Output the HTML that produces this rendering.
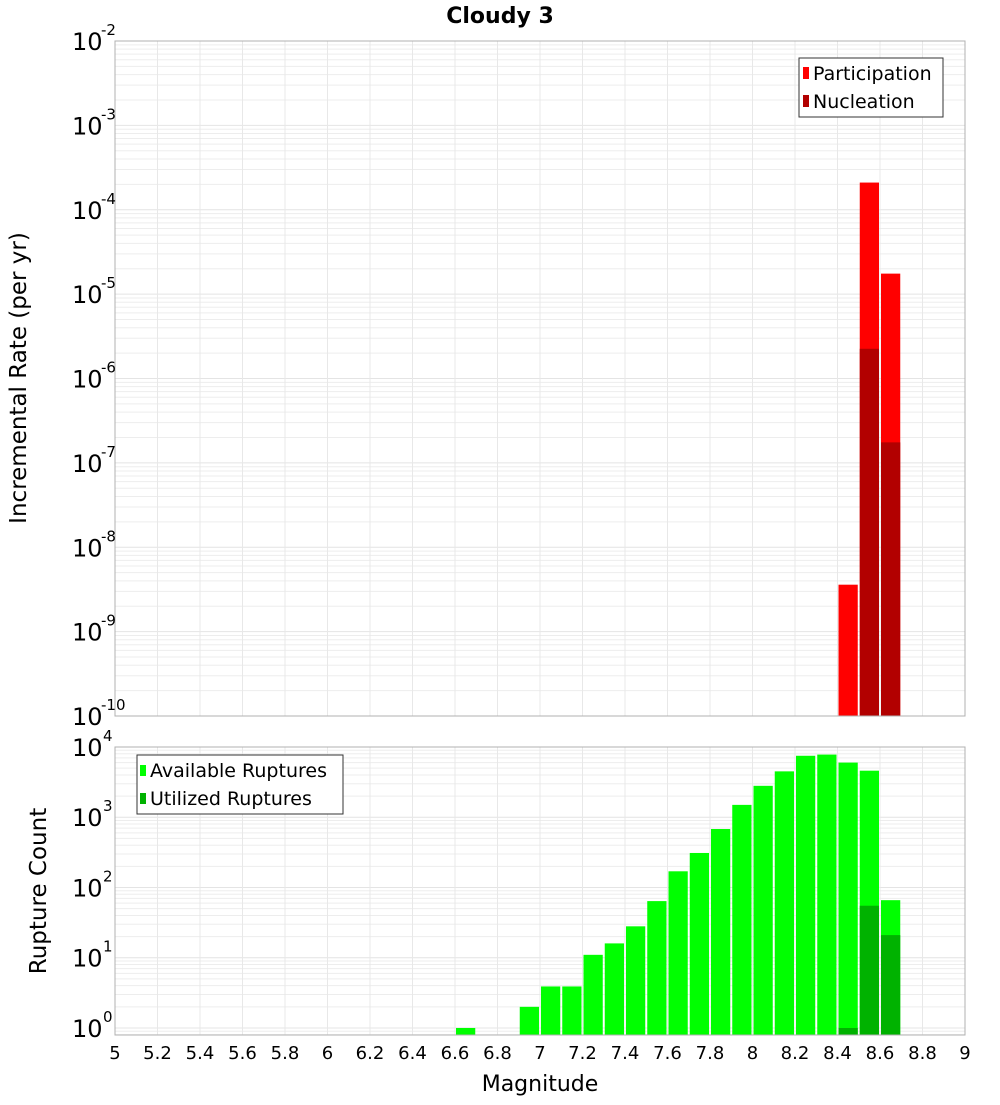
<!DOCTYPE html>
<html><head><meta charset="utf-8"><style>
body{margin:0;background:#fff}
svg text{font-family:"DejaVu Sans","Liberation Sans",sans-serif;fill:#000}
</style></head><body>
<svg id="c" width="1000" height="1100"></svg>
<script>
const binStarts=[6.6,6.7,6.8,6.9,7.0,7.1,7.2,7.3,7.4,7.5,7.6,7.7,7.8,7.9,8.0,8.1,8.2,8.3,8.4,8.5,8.6];
const available=[1,0,0,2,3.9,3.9,11,16,28,64,170,310,680,1500,2800,4500,7500,7800,6000,4600,66];
const utilized=[0,0,0,0,0,0,0,0,0,0,0,0,0,0,0,0,0,0,1,55,21];
const rateBins=[8.4,8.5,8.6];
const participation=[3.6e-9,2.1e-4,1.75e-5];
const nucleation=[0,2.25e-6,1.75e-7];
const xTicks=[5,5.2,5.4,5.6,5.8,6,6.2,6.4,6.6,6.8,7,7.2,7.4,7.6,7.8,8,8.2,8.4,8.6,8.8,9];
const topExps=[-2,-3,-4,-5,-6,-7,-8,-9,-10];
const botExps=[0,1,2,3,4];

const NS="http://www.w3.org/2000/svg",svg=document.getElementById('c');
function mk(t,a,p){const e=document.createElementNS(NS,t);for(const k in a)e.setAttribute(k,a[k]);(p||svg).appendChild(e);return e;}
const X0=115,X1=965;
const x=v=>X0+(v-5)/4*(X1-X0);
const T0=41,T1=716;
const yT=v=>T0+(-2-Math.log10(v))/8*(T1-T0);
const B0=747,B1=1035;
const yB=v=>B1-(Math.log10(v)+0.1)/4.1*(B1-B0);

function grid(y0,y1,yf,lo,hi,name){
  const g=mk('g',{});  
  for(let e=lo;e<hi;e++)for(let m=1;m<10;m++){const yy=yf(m*Math.pow(10,e));if(yy<y0-0.5||yy>y1+0.5)continue;
    mk('line',{x1:X0,x2:X1,y1:yy,y2:yy,stroke:m==1?'#e4e4e4':'#ededed','stroke-width':1},g);}
  xTicks.forEach(t=>{mk('line',{x1:x(t),x2:x(t),y1:y0,y2:y1,stroke:'#e8e8e8'},g);});
}
grid(T0,T1,yT,-10,-1,'top');
grid(B0,B1,yB,-1,5,'bottom');

rateBins.forEach((b,i)=>{
  const xa=x(b)+1,w=x(b+0.1)-x(b)-2;
  if(participation[i]>0){const r=mk('rect',{x:xa,y:yT(participation[i]),width:w,height:T1-yT(participation[i]),fill:'#ff0000'});
    }
  if(nucleation[i]>0){const r=mk('rect',{x:xa,y:yT(nucleation[i]),width:w,height:T1-yT(nucleation[i]),fill:'#b20000'});
    }
});
binStarts.forEach((b,i)=>{
  const xa=x(b)+1,w=x(b+0.1)-x(b)-2;
  if(available[i]>0){const r=mk('rect',{x:xa,y:yB(available[i]),width:w,height:B1-yB(available[i]),fill:'#00ff00'});
    }
  if(utilized[i]>0){const r=mk('rect',{x:xa,y:yB(utilized[i]),width:w,height:B1-yB(utilized[i]),fill:'#00b200'});
    }
});
let f=mk('rect',{x:X0,y:T0,width:X1-X0,height:T1-T0,fill:'none',stroke:'#b0b0b0'});

f=mk('rect',{x:X0,y:B0,width:X1-X0,height:B1-B0,fill:'none',stroke:'#b0b0b0'});


topExps.forEach(e=>{const yy=yT(Math.pow(10,e));
  const t=mk('text',{x:72,y:yy+9,'font-size':24});t.textContent='10';
  
  const s=mk('text',{x:101,y:yy-6,'font-size':15});s.textContent=e;
  });
botExps.forEach(e=>{const yy=yB(Math.pow(10,e));
  const t=mk('text',{x:72,y:yy+9,'font-size':24});t.textContent='10';
  
  const s=mk('text',{x:103,y:yy-6,'font-size':15});s.textContent=e;
  });
xTicks.forEach(t=>{const l=mk('text',{x:x(t),y:1059,'font-size':18,'text-anchor':'middle'});l.textContent=t;
  });

function txt(s,a,name){const t=mk('text',a);t.textContent=s;return t;}
txt('Cloudy 3',{x:500,y:23,'font-size':22,'font-weight':'bold','text-anchor':'middle'},'chart-title');
txt('Magnitude',{x:540,y:1091,'font-size':22,'text-anchor':'middle'},'x-axis-title');
txt('Incremental Rate (per yr)',{x:0,y:0,'font-size':23,'text-anchor':'middle',transform:'translate(26,378) rotate(-90)'},'top-y-axis-title');
txt('Rupture Count',{x:0,y:0,'font-size':23,'text-anchor':'middle',transform:'translate(46,891) rotate(-90)'},'bottom-y-axis-title');

let lg=mk('g',{});
mk('rect',{x:799,y:58,width:144,height:59,fill:'#fff',stroke:'#333'},lg);
mk('rect',{x:803,y:67,width:6,height:12,fill:'#ff0000'},lg);
mk('rect',{x:803,y:95,width:6,height:12,fill:'#b20000'},lg);
let t=mk('text',{x:813,y:80,'font-size':19},lg);t.textContent='Participation';
t=mk('text',{x:813,y:108,'font-size':19},lg);t.textContent='Nucleation';
lg=mk('g',{});
mk('rect',{x:137,y:755,width:206,height:59,fill:'#fff',stroke:'#333'},lg);
mk('rect',{x:140,y:765,width:6,height:11,fill:'#00ff00'},lg);
mk('rect',{x:140,y:793,width:6,height:11,fill:'#00b200'},lg);
t=mk('text',{x:150,y:777,'font-size':19},lg);t.textContent='Available Ruptures';
t=mk('text',{x:150,y:805,'font-size':19},lg);t.textContent='Utilized Ruptures';
</script>
</body></html>
